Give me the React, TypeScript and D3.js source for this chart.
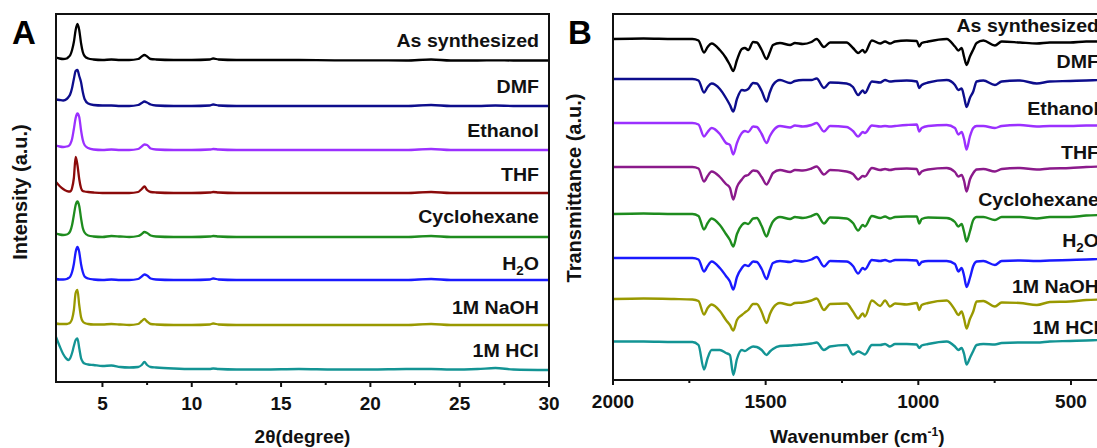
import React from 'react';
import * as d3 from 'd3';

// ---------- Panel A: XRD ----------
const sampleLabels = ['As synthesized', 'DMF', 'Ethanol', 'THF', 'Cyclohexane', 'H2O', '1M NaOH', '1M HCl'];
const xrdColors = ['#000000', '#0d0d8c', '#9b30ff', '#8b0a0a', '#1e8c1e', '#1a1aff', '#999900', '#139494'];
const ftirColors = ['#000000', '#0d0d8c', '#9b30ff', '#8b1a8b', '#1e8c1e', '#1a1aff', '#999900', '#139494'];

const twoTheta = [2.4, 2.6, 2.8, 3.0, 3.1, 3.2, 3.3, 3.4, 3.5, 3.6, 3.7, 3.8, 3.9, 4.0, 4.2, 4.5, 5.0, 5.5, 6.0, 6.5, 7.0, 7.2, 7.35, 7.5, 7.7, 8.0, 9.0, 10.0, 11.0, 11.2, 11.5, 12.5, 14, 16, 18, 20, 22, 23.4, 24.5, 26, 27, 28, 30];

const xrdAsSynth = [2.5, 1.5, 1, 1.5, 3, 5, 10, 18, 30, 36, 30, 17, 8, 4, 1.5, 0.5, 0, 0.5, 0, 0, 1, 3.5, 5, 3.5, 1, 0.5, 0, 0, 0.5, 1.5, 0.5, 0, 0, 0, -0.3, -0.3, -0.5, 0.5, -0.5, -0.5, -0.3, -0.5, -0.5];
const xrdDMF = [6.5, 6, 5.5, 7, 9, 12, 18, 27, 35, 36, 30, 24, 14, 7, 2.5, 1, 0.5, 0.5, 0, 0, 1, 3, 4.5, 3.5, 1.5, 0.5, 0, 0, 0.5, 1.5, 0.5, 0, 0, 0, 0, 0, 0, 1, 0, 0, 0.5, 0, 0];
const xrdEthanol = [4.5, 3.5, 3, 3.5, 4, 6, 11, 21, 32, 36.5, 33, 20, 10, 5, 2, 0.5, 0, 0.5, 0, 0, 1, 3.5, 5.5, 5, 1.5, 0.5, 0, 0, 0.5, 1, 0.5, 0, 0, 0, 0, 0, 0, 1, 0, 0, 0, 0, 0];
const xrdTHF = [11, 7, 4, 2, 1.5, 1.5, 5, 15, 36, 28, 14, 5, 2, 1.5, 1, 0.5, 0, 0, 0, 0, 1, 4, 6.5, 3, 1, 0.5, 0, 0, 0.5, 1, 0.5, 0, 0, 0, 0, 0, 0, 1, 0, 0, 0, 0, 0];
const xrdCyclohexane = [3.5, 2.5, 2, 2.5, 3.5, 6, 12, 22, 32, 35.5, 31, 19, 9, 4.5, 1.5, 0.5, 0, 1, 0.5, 0, 1, 3, 5, 4, 1.5, 0.5, 0, 0, 0.5, 1, 0.5, 0, 0, 0, 0, 0, 0, 1, 0, 0, 0, 0, 0];
const xrdH2O = [1, 0.5, 0.5, 1, 2, 3.5, 8, 16, 28, 33, 28, 16, 8, 3.5, 1.5, 0.5, 0, 0.5, 0, 0, 1, 3.5, 5.5, 4.5, 1.5, 0.5, 0, 0, 0.5, 1.5, 0.5, 0, 0, 0, 0, 0, 0, 1, 0, 0, 0, 0, 0];
const xrdNaOH = [1.5, 1, 1, 1, 1.5, 2.5, 6, 15, 32, 35, 20, 8, 3.5, 2, 1, 0.5, 0.5, 1, 0.5, 0, 1, 4, 6, 3.5, 1, 0.5, 0, 0, 0.5, 1.5, 0.5, 0, 0, 0, 0, 0, 0, 1, 0, 0, 0, 0, 0];
const xrdHCl = [33, 24, 16, 11, 10, 12, 17, 24, 30, 31.5, 22, 12, 8, 6.5, 5.5, 5, 4, 4.5, 3, 2.5, 3, 5, 8, 5, 3, 2.5, 1.5, 1, 1, 1.5, 1, 0.5, 0.5, 1, 0.5, 0.5, 1, 1, 0.5, 1, 2, 0.5, 0];
const xrdSeries = [xrdAsSynth, xrdDMF, xrdEthanol, xrdTHF, xrdCyclohexane, xrdH2O, xrdNaOH, xrdHCl];
const xrdOffsets = [322, 276, 232, 189, 145, 102, 57, 12];
const xrdTicks = [5, 10, 15, 20, 25, 30];
const xrdMinorTicks = [7.5, 12.5, 17.5, 22.5, 27.5];

// ---------- Panel B: FTIR ----------
const wavenumber = [2000, 1900, 1800, 1740, 1720, 1702, 1690, 1677, 1650, 1630,
  1617, 1606, 1594, 1578, 1568, 1557, 1541, 1529, 1513, 1497,
  1486, 1476, 1453, 1420, 1404, 1378, 1350, 1333, 1309, 1289,
  1235, 1214, 1197, 1182, 1175, 1152, 1125, 1109, 1093, 1076,
  1038, 1005, 997, 989, 968, 907, 880, 869, 858, 850,
  842, 831, 820, 809, 787, 749, 727, 667, 612, 569,
  503, 450, 400];

const ftirAsSynth = [0, 0.5, 0, 0, -1.5, -13.5, -8, -4.5, -11, -19,
  -26, -32, -21, -10, -9, -11, -3, -3.5, -11, -20,
  -13, -6, -4, -6, -4, -5, -3, 0, -8, -3.5,
  -3.5, -9, -14, -11, -13.5, -1.5, -4.5, -2.5, -4.5, -2.5,
  -1.5, -2, -7.5, -4, -2.5, 0, -7.5, -11.5, -9, -18,
  -26, -17.5, -10.5, -4, -1.5, -6.5, -2.5, -3.5, -4.5, -3.5,
  -3.5, -2.5, -2.5];
const ftirDMF = [0, 0, 0, 0, -1.5, -13.5, -8, -4.5, -10, -19,
  -26, -32.5, -20, -11, -11.5, -10, -4, -4.5, -12, -22.5,
  -13, -6, -1, -4, -2, -1, -1, 0.5, -9, -3.5,
  -4.5, -8, -16, -11.5, -14, -2.5, -3.5, -1, -2.5, -2,
  -1.5, -2.5, -9, -6, -3.5, -1, -6, -11, -9.5, -18,
  -28, -19, -12.5, -2.5, -1.5, -6, -2.5, -1.5, -4.5, -2.5,
  -2, -1.5, -1];
const ftirEthanol = [0, 0, 0, 0, -1.5, -13.5, -9, -5, -11, -20,
  -22, -31.5, -20, -10, -8, -9, -3.5, -4, -11, -20,
  -13, -8, -3, -4.5, -2.5, -3.5, -2, 0, -8.5, -3,
  -4, -8, -13.5, -9, -10, -2.5, -3.5, -3, -3.5, -3,
  -2, -1.5, -8.5, -5, -3, -2, -5, -11.5, -9, -16,
  -26.5, -13.5, -5, -3, -3, -5, -3, -2, -3.5, -3,
  -3, -2.5, -2.5];
const ftirTHF = [0, 0, 0, 0, -1.5, -14.5, -9, -4.5, -10, -17,
  -21, -32.5, -20, -12.5, -9, -8, -3.5, -4, -10, -17.5,
  -12, -6, -3, -5, -3, -3.5, -1.5, 0.5, -7.5, -3,
  -4.5, -7, -12.5, -9, -9.5, -1, -3, -2, -3, -2,
  -1.5, -2, -7.5, -4.5, -2.5, -1, -5, -9.5, -8, -14,
  -24.5, -12.5, -6, -2.5, -2, -4.5, -2, -1, -2.5, -1.5,
  -1, 0, 0.5];
const ftirCyclohexane = [0, 0.5, 0, 0, -2, -15.5, -9, -4.5, -11, -20,
  -26, -32.5, -20, -11, -9, -10, -4.5, -4, -12, -22.5,
  -14, -7.5, -3, -5, -3, -4, -2, 0, -9.5, -3.5,
  -4.5, -9, -16.5, -11, -12.5, -2, -4, -2.5, -4.5, -3,
  -2.5, -2.5, -9.5, -5, -3.5, -4, -8, -12.5, -10, -18,
  -27.5, -17.5, -6, -3, -3, -6, -3, -3, -4.5, -3,
  -3, -1.5, -1];
const ftirH2O = [0, 0, 0, 0, -1.5, -13.5, -8, -3.5, -10, -18,
  -23.5, -31.5, -19, -10, -7, -8, -3.5, -4, -11, -21,
  -12, -5, -3, -4, -2.5, -3.5, -1.5, 1, -8.5, -3,
  -3.5, -8, -15.5, -10, -11.5, -2, -3, -2, -3.5, -2,
  -2, -2.5, -7, -4, -3, -3, -6, -13.5, -10, -18,
  -29, -20, -8, -3.5, -3, -7, -3, -2.5, -3, -2.5,
  -2, -1.5, -1];
const ftirNaOH = [0, 0.5, 0, -0.5, -2, -15.5, -9, -5.5, -12, -21,
  -26, -31.5, -21, -16, -13.5, -11, -5, -5, -13, -24,
  -15, -9, -4, -6, -4, -3.5, -1.5, 0.5, -11, -5,
  -4.5, -12.5, -19.5, -14.5, -17.5, -1.5, -7, -1.5, -7.5, -4.5,
  -5.5, -4, -11, -6, -4, -1.5, -11, -16, -12.5, -20,
  -29.5, -20, -12.5, -2.5, -2, -7.5, -3.5, -4, -6, -3,
  -2.5, -1, -0.5];
const ftirHCl = [0.5, 0.5, 0, 0, -3, -27.5, -16, -8, -8, -11,
  -13, -33, -17, -8, -9, -7, -4.5, -5, -8, -13,
  -9.5, -7, -4, -3.5, -3, -2.5, -1.5, -0.5, -8, -4.5,
  -3, -12.5, -9.5, -11.5, -12.5, -3, -3, -2, -4.5, -2,
  -2, -2.5, -6, -3.5, -2, 0.5, -4.5, -8, -6, -12,
  -22.5, -16, -9, -3, -2, -2.5, -1, -0.5, -0.5, 0.5,
  1, 1.5, 2];
const ftirSeries = [ftirAsSynth, ftirDMF, ftirEthanol, ftirTHF, ftirCyclohexane, ftirH2O, ftirNaOH, ftirHCl];
const ftirOffsets = [341, 301, 257, 213, 166, 122, 81, 38];
const ftirTicks = [2000, 1500, 1000, 500];
const ftirMinorTicks = [1750, 1250, 750];

// ---------- layout ----------
const W = 1097;
const H = 448;
const FONT = "'Liberation Sans', Arial, Helvetica, sans-serif";
const A = { left: 56, right: 549, top: 14, bottom: 382 };
const B = { left: 613, right: 1101.5, top: 14, bottom: 380 };
const xrdLabelY = [47, 93, 137, 181, 223, 270, 314, 357];
const ftirLabelY = [31.5, 68, 115, 159, 205.5, 247, 292.5, 333.5];

function SampleLabel({ text, x, y }: { text: string; x: number; y: number }) {
  const content = text === 'H2O' ? (
    <>
      <tspan>H</tspan>
      <tspan dy={5} fontSize={12}>2</tspan>
      <tspan dy={-5}>O</tspan>
    </>
  ) : text;
  return (
    <text transform={`translate(${x},${y}) scale(1.12,1)`} textAnchor="end" fontSize={17.5} fontWeight="bold" fill="#111">
      {content}
    </text>
  );
}

export default function App() {
  const xA = d3.scaleLinear().domain([2.4, 30]).range([A.left, A.right]);
  const yA = d3.scaleLinear().domain([0, 368]).range([A.bottom, A.top]);
  const xB = d3.scaleLinear().domain([2000, 400]).range([B.left, B.right]);
  const yB = d3.scaleLinear().domain([0, 366]).range([B.bottom, B.top]);

  const lineA = (vals: number[], off: number) =>
    d3.line<number>().x((_, i) => xA(twoTheta[i])).y((v) => yA(v + off)).curve(d3.curveMonotoneX)(vals) || '';
  const lineB = (vals: number[], off: number) =>
    d3.line<number>().x((_, i) => xB(wavenumber[i])).y((v) => yB(v + off)).curve(d3.curveMonotoneX)(vals) || '';

  return (
    <svg width={W} height={H} style={{ position: 'absolute', left: 0, top: 0, background: '#fff' }} fontFamily={FONT}>
      <defs>
        <clipPath id="clipB">
          <rect x={B.left} y={B.top} width={B.right - B.left} height={B.bottom - B.top} />
        </clipPath>
      </defs>
      {/* Panel A */}
      <g>
        {xrdSeries.map((s, i) => (
          <path key={i} d={lineA(s, xrdOffsets[i])} fill="none" stroke={xrdColors[i]} strokeWidth={2.3} strokeLinejoin="round" />
        ))}
        <rect x={A.left} y={A.top} width={A.right - A.left} height={A.bottom - A.top} fill="none" stroke="#111" strokeWidth={2} />
        {xrdTicks.map((t) => (
          <g key={t}>
            <line x1={xA(t)} x2={xA(t)} y1={A.bottom} y2={A.bottom + 5} stroke="#111" strokeWidth={2} />
            <text x={xA(t)} y={410} textAnchor="middle" fontSize={19} fontWeight="bold" fill="#111">{t}</text>
          </g>
        ))}
        {xrdMinorTicks.map((t) => (
          <line key={t} x1={xA(t)} x2={xA(t)} y1={A.bottom} y2={A.bottom + 3} stroke="#111" strokeWidth={2} />
        ))}
        {sampleLabels.map((l, i) => (
          <SampleLabel key={l} text={l} x={539} y={xrdLabelY[i]} />
        ))}
        <text x={(A.left + A.right) / 2} y={443} textAnchor="middle" fontSize={19} fontWeight="bold" fill="#111">2θ(degree)</text>
        <text transform={`translate(27,192) rotate(-90)`} textAnchor="middle" fontSize={20} fontWeight="bold" fill="#111">Intensity (a.u.)</text>
        <text x={12} y={44} fontSize={33} fontWeight="bold" fill="#000">A</text>
      </g>
      {/* Panel B */}
      <g>
        <g clipPath="url(#clipB)">
          {ftirSeries.map((s, i) => (
            <path key={i} d={lineB(s, ftirOffsets[i])} fill="none" stroke={ftirColors[i]} strokeWidth={2.4} strokeLinejoin="round" />
          ))}
        </g>
        <rect x={B.left} y={B.top} width={B.right - B.left} height={B.bottom - B.top} fill="none" stroke="#111" strokeWidth={2} />
        {ftirTicks.map((t) => (
          <g key={t}>
            <line x1={xB(t)} x2={xB(t)} y1={B.bottom} y2={B.bottom + 5} stroke="#111" strokeWidth={2} />
            <text x={xB(t)} y={408} textAnchor="middle" fontSize={19} fontWeight="bold" fill="#111">{t}</text>
          </g>
        ))}
        {ftirMinorTicks.map((t) => (
          <line key={t} x1={xB(t)} x2={xB(t)} y1={B.bottom} y2={B.bottom + 3} stroke="#111" strokeWidth={2} />
        ))}
        {sampleLabels.map((l, i) => (
          <SampleLabel key={l} text={l} x={1099} y={ftirLabelY[i]} />
        ))}
        <text x={(B.left + B.right) / 2} y={443} textAnchor="middle" fontSize={19} fontWeight="bold" fill="#111">
          Wavenumber (cm<tspan dy={-7} fontSize={12}>-1</tspan><tspan dy={7}>)</tspan>
        </text>
        <text transform={`translate(581,188) rotate(-90)`} textAnchor="middle" fontSize={20} fontWeight="bold" fill="#111">Transmittance (a.u.)</text>
        <text x={568} y={44} fontSize={33} fontWeight="bold" fill="#000">B</text>
      </g>
    </svg>
  );
}
